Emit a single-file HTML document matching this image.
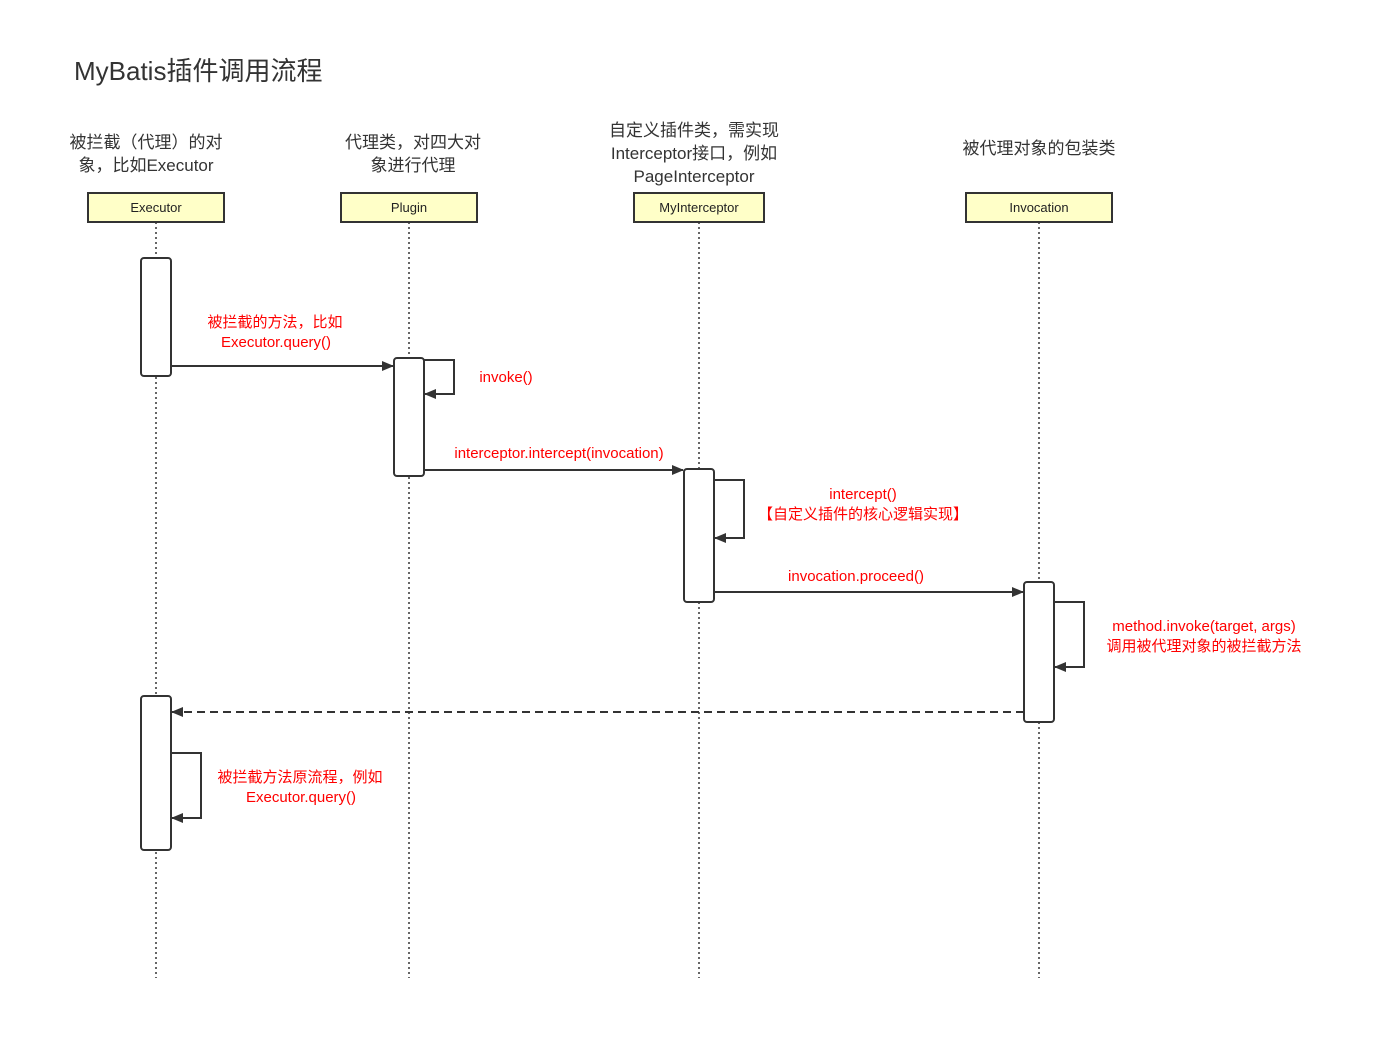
<!DOCTYPE html>
<html><head><meta charset="utf-8"><style>
html,body{margin:0;padding:0;background:#fff;}
svg{display:block;font-family:"Liberation Sans","Noto Sans CJK SC",sans-serif;}
.h{font-size:17px;fill:#333;text-anchor:middle;}
.b{font-size:13px;fill:#222;text-anchor:middle;}
.r{font-size:15px;fill:#f00;text-anchor:middle;}
</style></head><body>
<svg width="1378" height="1044" viewBox="0 0 1378 1044">
<defs><marker id="a" markerWidth="12" markerHeight="10" refX="11" refY="5" orient="auto" markerUnits="userSpaceOnUse"><path d="M0,0 L12,5 L0,10 Z" fill="#333"/></marker></defs>
<text x="74" y="80" font-size="26" fill="#333">MyBatis插件调用流程</text>
<text class="h" x="146" y="148">被拦截（代理）的对</text><text class="h" x="146" y="171">象，比如Executor</text>
<text class="h" x="413" y="148">代理类，对四大对</text><text class="h" x="413" y="171">象进行代理</text>
<text class="h" x="694" y="136">自定义插件类，需实现</text><text class="h" x="694" y="159">Interceptor接口，例如</text><text class="h" x="694" y="182">PageInterceptor</text>
<text class="h" x="1039" y="154">被代理对象的包装类</text>
<g stroke="#333" stroke-width="1.5" stroke-dasharray="2,3">
<line x1="156" y1="222" x2="156" y2="978"/><line x1="409" y1="222" x2="409" y2="978"/><line x1="699" y1="222" x2="699" y2="978"/><line x1="1039" y1="222" x2="1039" y2="978"/>
</g>
<g fill="#ffffc8" stroke="#333" stroke-width="2">
<rect x="88" y="193" width="136" height="29"/><rect x="341" y="193" width="136" height="29"/><rect x="634" y="193" width="130" height="29"/><rect x="966" y="193" width="146" height="29"/>
</g>
<text class="b" x="156" y="212">Executor</text><text class="b" x="409" y="212">Plugin</text><text class="b" x="699" y="212">MyInterceptor</text><text class="b" x="1039" y="212">Invocation</text>
<g fill="#fff" stroke="#333" stroke-width="2">
<rect x="141" y="258" width="30" height="118" rx="3"/><rect x="394" y="358" width="30" height="118" rx="3"/><rect x="684" y="469" width="30" height="133" rx="3"/><rect x="1024" y="582" width="30" height="140" rx="3"/><rect x="141" y="696" width="30" height="154" rx="3"/>
</g>
<g stroke="#333" stroke-width="2" fill="none" marker-end="url(#a)">
<line x1="171" y1="366" x2="393" y2="366"/>
<line x1="424" y1="470" x2="683" y2="470"/>
<line x1="714" y1="592" x2="1023" y2="592"/>
<line x1="1024" y1="712" x2="172" y2="712" stroke-dasharray="8,5"/>
<polyline points="424,360 454,360 454,394 425,394"/>
<polyline points="714,480 744,480 744,538 715,538"/>
<polyline points="1054,602 1084,602 1084,667 1055,667"/>
<polyline points="171,753 201,753 201,818 172,818"/>
</g>
<text class="r" x="275" y="327">被拦截的方法，比如</text><text class="r" x="276" y="347">Executor.query()</text>
<text class="r" x="506" y="382">invoke()</text>
<text class="r" x="559" y="458">interceptor.intercept(invocation)</text>
<text class="r" x="863" y="499">intercept()</text><text class="r" x="863" y="519">【自定义插件的核心逻辑实现】</text>
<text class="r" x="856" y="581">invocation.proceed()</text>
<text class="r" x="1204" y="631">method.invoke(target, args)</text><text class="r" x="1204" y="651">调用被代理对象的被拦截方法</text>
<text class="r" x="300" y="782">被拦截方法原流程，例如</text><text class="r" x="301" y="802">Executor.query()</text>
</svg>
</body></html>
